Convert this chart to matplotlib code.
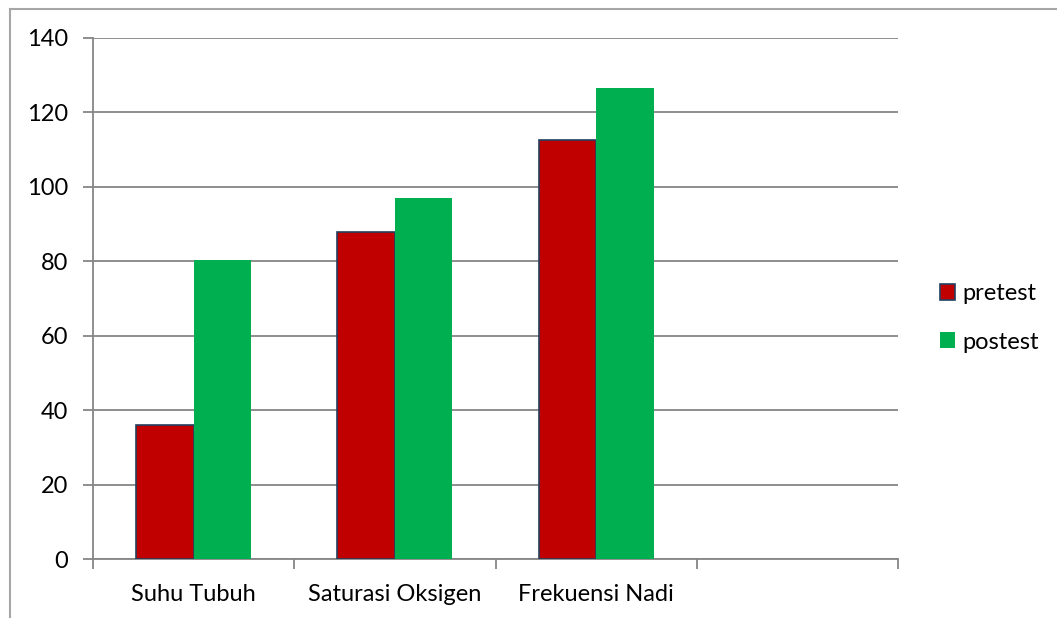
import numpy as np
import matplotlib.pyplot as plt
from matplotlib.lines import Line2D
from matplotlib.patches import Patch

plt.rcParams['font.family'] = ['Lato', 'DejaVu Sans']

# data
categories = ['Suhu Tubuh', 'Saturasi Oksigen', 'Frekuensi Nadi', '']
pretest = [36.0, 87.9, 112.5]
postest = [80.3, 97.1, 126.5]

red = '#C00000'
green = '#00B050'
edge = '#243F60'
grid_c = '#868686'
fs = 17

W, H = 1057, 618
fig = plt.figure(figsize=(W / 100, H / 100), dpi=100)
ax = fig.add_axes([93 / W, (H - 559) / H, (898 - 93) / W, (559 - 38) / H])

w = 1 / 3.5
x = np.arange(len(pretest))
ax.bar(x - w / 2, pretest, width=w, color=red, edgecolor=edge, linewidth=1.2, zorder=3)
ax.bar(x + w / 2, postest, width=w, color=green, edgecolor='none', zorder=3)

ax.set_xlim(-0.5, len(categories) - 0.5)
ax.set_ylim(0, 140)
ax.set_yticks(range(0, 141, 20))
ax.yaxis.grid(True, color=grid_c, linewidth=1.3, zorder=0)

ax.set_xticks(range(len(categories)))
ax.set_xticklabels(categories)
ax.set_xticks(np.arange(-0.5, len(categories)), minor=True)
ax.tick_params(axis='x', which='major', length=0, pad=18, labelsize=fs)
ax.tick_params(axis='x', which='minor', length=7, width=1.3, color=grid_c, direction='out')
ax.tick_params(axis='y', length=7, width=1.3, color=grid_c, pad=11, labelsize=fs)

for s in ['top', 'right']:
    ax.spines[s].set_visible(False)
for s in ['left', 'bottom']:
    ax.spines[s].set_color(grid_c)
    ax.spines[s].set_linewidth(1.3)

handles = [Patch(facecolor=red, edgecolor=edge, linewidth=1.2, label='pretest'),
           Patch(facecolor=green, edgecolor='none', label='postest')]
fig.legend(handles=handles, loc='center left', bbox_to_anchor=(940 / W, 1 - 318 / H),
           frameon=False, fontsize=fs, handlelength=0.65, handleheight=0.65,
           handletextpad=0.3, labelspacing=1.15, borderpad=0, borderaxespad=0)

# outer chart border (top and left edges only)
fig.add_artist(Line2D([10 / W, 1], [1 - 9 / H, 1 - 9 / H], color='#A6A6A6', linewidth=1.5))
fig.add_artist(Line2D([10 / W, 10 / W], [0, 1 - 9 / H], color='#A6A6A6', linewidth=1.5))

fig.savefig('out.png', dpi=100)
